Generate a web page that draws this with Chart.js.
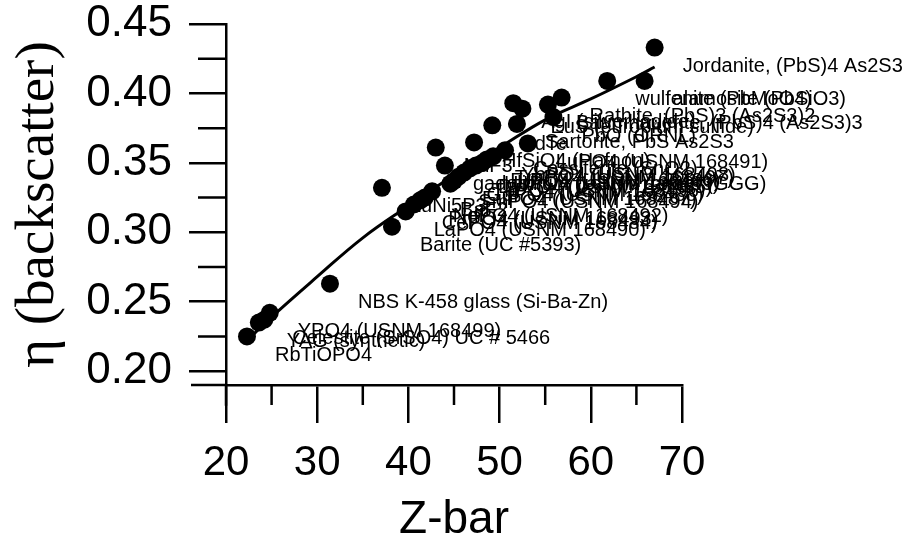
<!DOCTYPE html>
<html>
<head>
<meta charset="utf-8">
<script src="https://cdn.jsdelivr.net/npm/chart.js@4.4.0/dist/chart.umd.min.js"></script>
<style>
  html, body { margin: 0; padding: 0; background: #fff; }
  #wrap { width: 913px; height: 543px; }
</style>
</head>
<body>
<div id="wrap"><canvas id="chart" width="913" height="543"></canvas></div>
<script>
// standards: name, mean atomic number, measured backscatter coefficient
const sampleNames = [
  "RbTiOPO4", "YAG (synthetic)", "Celestite (SrSO4) UC # 5466", "YPO4 (USNM 168499)",
  "NBS K-458 glass (Si-Ba-Zn)", "LuNi5P3", "Barite (UC #5393)", "LaPO4 (USNM 168490)",
  "CePO4 (USNM 168484)", "PrPO4 (USNM 168493)", "NdPO4 (USNM 168492)", "BaF2",
  "NdF3", "gadolinium gallium garnet (GGG)", "SmPO4 (USNM 168494)", "EuPO4 (USNM 168487)",
  "GdPO4 (USNM 168488)", "TbPO4 (USNM 168496)", "HfSiO4 (Hafnon)", "DyPO4 (USNM 168485)",
  "HoPO4 (USNM 168489)", "ErPO4 (USNM 168486)", "TmPO4 (USNM 168497)", "YbPO4 (USNM 168498)",
  "Cassiterite (SnO2)", "LuPO4 (USNM 168491)", "CdTe", "AgI (silver iodide)",
  "EuS (europium sulfide)", "Sartorite, PbS As2S3", "PbO (ORNL)", "Baumhauerite, (PbS)4 (As2S3)3",
  "Rathite, (PbS)3 (As2S3)2", "wulfenite (PbMoO4)", "alamosite (PbSiO3)", "Jordanite, (PbS)4 As2S3"
];
const sampleZ = [
  22.3, 23.6, 24.2, 24.8,
  31.4, 37.1, 38.2, 39.7,
  40.6, 41.3, 41.8, 42.6,
  43.0, 44.0, 44.6, 45.0,
  45.5, 46.1, 47.2, 46.75,
  47.4, 48.1, 48.6, 49.3,
  50.6, 53.1, 49.2, 51.5,
  52.5, 51.9, 55.9, 55.3,
  56.8, 61.8, 65.9, 67.0
];
const sampleEta = [
  0.225, 0.235, 0.237, 0.242,
  0.263, 0.332, 0.304, 0.315,
  0.320, 0.323, 0.325, 0.3295,
  0.361, 0.348, 0.335, 0.337,
  0.340, 0.343, 0.3647, 0.346,
  0.348, 0.350, 0.3525, 0.3547,
  0.359, 0.364, 0.377, 0.393,
  0.389, 0.378, 0.383, 0.392,
  0.397, 0.409, 0.409, 0.433
];

// fitted curve
const fitZ = [22, 25, 30, 35, 40, 45, 50, 55, 60, 65, 67];
const fitEta = [0.220, 0.239, 0.268, 0.296, 0.319, 0.341, 0.361, 0.381, 0.396, 0.412, 0.419];

const xTicks = [20, 30, 40, 50, 60, 70];
const xMinorTicks = [25, 35, 45, 55, 65];
const yTicks = [0.20, 0.25, 0.30, 0.35, 0.40, 0.45];
const yMinorTicks = [0.225, 0.275, 0.325, 0.375, 0.425];

const sans = '"Liberation Sans", Arial, sans-serif';

// labels under the markers, minor ticks and the axis overhangs
const axisExtras = {
  id: 'axisExtras',
  beforeDatasetsDraw(chart) {
    const ctx = chart.ctx;
    const meta = chart.getDatasetMeta(0);
    ctx.save();
    ctx.font = '20px ' + sans;
    ctx.fillStyle = '#000';
    ctx.textBaseline = 'middle';
    ctx.textAlign = 'left';
    meta.data.forEach((pt, i) => ctx.fillText(sampleNames[i], pt.x + 28, pt.y + 19));
    ctx.restore();
  },
  afterDraw(chart) {
    const {ctx, scales: {x, y}} = chart;
    ctx.save();
    ctx.strokeStyle = '#000';
    ctx.lineWidth = 2.5;
    ctx.beginPath();
    ctx.moveTo(x.left - 35, y.bottom);
    ctx.lineTo(x.left, y.bottom);
    ctx.moveTo(x.left, y.bottom);
    ctx.lineTo(x.left, y.getPixelForValue(0.175));
    xMinorTicks.forEach(v => {
      const px = x.getPixelForValue(v);
      ctx.moveTo(px, y.bottom);
      ctx.lineTo(px, y.bottom + 20);
    });
    yMinorTicks.forEach(v => {
      const py = y.getPixelForValue(v);
      ctx.moveTo(x.left, py);
      ctx.lineTo(x.left - 28, py);
    });
    ctx.stroke();
    ctx.restore();
  }
};

new Chart(document.getElementById('chart'), {
  type: 'scatter',
  data: {
    datasets: [
      {
        data: sampleZ.map((z, i) => ({x: z, y: sampleEta[i]})),
        pointRadius: 9,
        pointHoverRadius: 9,
        backgroundColor: '#000',
        borderWidth: 0
      },
      {
        type: 'line',
        data: fitZ.map((z, i) => ({x: z, y: fitEta[i]})),
        borderColor: '#000',
        borderWidth: 3,
        pointRadius: 0,
        tension: 0.4,
        fill: false
      }
    ]
  },
  options: {
    responsive: false,
    animation: false,
    devicePixelRatio: 1,
    layout: { padding: { top: 24, right: 231, left: 0, bottom: 0 } },
    plugins: { legend: { display: false }, tooltip: { enabled: false } },
    scales: {
      x: {
        type: 'linear',
        min: 20,
        max: 70,
        afterBuildTicks: s => { s.ticks = xTicks.map(v => ({value: v})); },
        afterFit: s => { s.height = 158; },
        grid: { drawOnChartArea: false, drawTicks: true, tickLength: 38, color: '#000', lineWidth: 2.5 },
        border: { display: true, color: '#000', width: 2.5 },
        ticks: { color: '#000', font: { family: sans, size: 42, lineHeight: 1 }, padding: 19, maxRotation: 0, autoSkip: false,
                 callback: v => String(v) },
        title: { display: true, text: 'Z-bar', color: '#000', font: { family: sans, size: 46, lineHeight: 1 },
                 padding: { top: 0, bottom: 0 } }
      },
      y: {
        type: 'linear',
        min: 0.19,
        max: 0.45,
        afterBuildTicks: s => { s.ticks = yTicks.map(v => ({value: v})); },
        afterFit: s => { s.width = 226; s.paddingTop = 0; s.paddingBottom = 0; },
        grid: { drawOnChartArea: false, drawTicks: true, tickLength: 37, color: '#000', lineWidth: 2.5 },
        border: { display: true, color: '#000', width: 2.5 },
        ticks: { color: '#000', font: { family: sans, size: 44, lineHeight: 1 }, padding: 17,
                 callback: v => v.toFixed(2) },
        title: { display: true, text: 'η (backscatter)', color: '#000',
                 font: { family: '"Liberation Serif", "Times New Roman", serif', size: 55, lineHeight: 1 },
                 padding: { top: 11, bottom: 0 } }
      }
    }
  },
  plugins: [axisExtras]
});
</script>
</body>
</html>
